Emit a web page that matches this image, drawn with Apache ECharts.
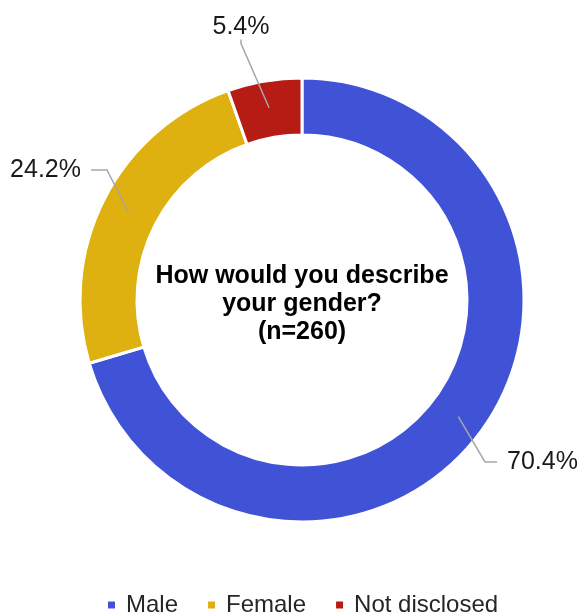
<!DOCTYPE html>
<html>
<head>
<meta charset="utf-8">
<script src="https://cdn.jsdelivr.net/npm/echarts@6/dist/echarts.min.js"></script>
<style>
  html, body { margin: 0; padding: 0; background: #fff; }
  #chart { width: 583px; height: 616px; }
</style>
</head>
<body>
<div id="chart"></div>
<script>
// Survey answers: share of respondents (%)
const categories = ['Male', 'Female', 'Not disclosed'];
const shares = [70.4, 24.2, 5.4];
const colors = ['#4052D6', '#DEB010', '#B71C14'];
const question = ['How would you describe', 'your gender?', '(n=260)'];

const FONT = '"Liberation Sans", Arial, Helvetica, sans-serif';
const CENTER = [302, 300];

const slices = categories.map((name, i) => ({
  name,
  value: shares[i],
  itemStyle: { color: colors[i] }
}));

// Per-slice callout styling: where the percentage text sits and how long the
// horizontal tail of its leader line is.
const calloutStyle = {
  'Male':          { x: 497, y: 462, align: 'left',   verticalAlign: 'middle', pad: [0, 0, 0, 10], tail: 12 },
  'Female':        { x: 91,  y: 170, align: 'right',  verticalAlign: 'middle', pad: [0, 10, 0, 0], tail: 16 },
  'Not disclosed': { x: 241, y: 27,  align: 'center', verticalAlign: 'middle', pad: [0, 0, 0, 0],  tail: 4 }
};

// Invisible copy of the ring reaching to its mid-radius: its labels' leader
// lines start inside the coloured band.
const calloutSlices = categories.map((name, i) => ({
  name,
  value: shares[i],
  label: { padding: calloutStyle[name].pad },
  labelLine: { length2: calloutStyle[name].tail }
}));

const chart = echarts.init(document.getElementById('chart'), null, { renderer: 'canvas' });

chart.setOption({
  backgroundColor: '#ffffff',
  animation: false,
  legend: {
    data: categories,
    left: 101,
    top: 588,
    icon: 'rect',
    itemWidth: 9,
    itemHeight: 9,
    itemGap: 28,
    selectedMode: false,
    textStyle: {
      fontFamily: FONT,
      fontSize: 24,
      color: '#262626',
      padding: [0, 0, 0, 5]
    }
  },
  graphic: [{
    type: 'text',
    x: CENTER[0],
    y: 304,
    silent: true,
    style: {
      text: question.join('\n'),
      fontFamily: FONT,
      fontSize: 25,
      fontWeight: 'bold',
      lineHeight: 28,
      fill: '#000000',
      textAlign: 'center',
      textVerticalAlign: 'middle',
      align: 'center',
      verticalAlign: 'middle'
    }
  }],
  series: [
    {
      name: 'Gender',
      type: 'pie',
      z: 2,
      center: CENTER,
      radius: [165, 222],
      startAngle: 90,
      clockwise: true,
      avoidLabelOverlap: false,
      silent: true,
      emphasis: { disabled: true },
      itemStyle: { borderColor: '#ffffff', borderWidth: 3 },
      label: { show: false },
      labelLine: { show: false },
      data: slices
    },
    {
      name: 'Callouts',
      type: 'pie',
      z: 5,
      center: CENTER,
      radius: [0, 195],
      startAngle: 90,
      clockwise: true,
      silent: true,
      avoidLabelOverlap: false,
      emphasis: { disabled: true },
      itemStyle: { color: 'rgba(0,0,0,0)', borderWidth: 0 },
      label: {
        show: true,
        position: 'outside',
        formatter: p => p.value.toFixed(1) + '%',
        fontFamily: FONT,
        fontSize: 25,
        color: '#1a1a1a',
        backgroundColor: 'rgba(0,0,0,0)'
      },
      labelLine: {
        show: true,
        length: 20,
        length2: 12,
        minTurnAngle: 0,
        lineStyle: { color: '#A6A6A6', width: 1.5 }
      },
      labelLayout: function (params) {
        const s = calloutStyle[categories[params.dataIndex]];
        return { x: s.x, y: s.y, align: s.align, verticalAlign: s.verticalAlign };
      },
      data: calloutSlices
    }
  ]
});
</script>
</body>
</html>
